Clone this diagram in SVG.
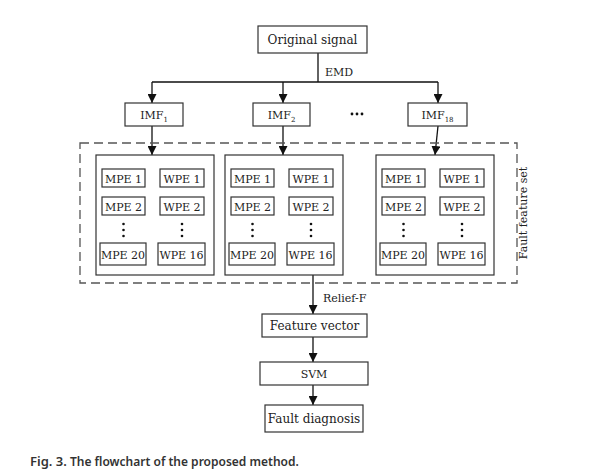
<svg xmlns="http://www.w3.org/2000/svg" width="609" height="474" viewBox="0 0 609 474">
<defs>
<marker id="ah" viewBox="0 0 10 10" refX="10" refY="5" markerWidth="9" markerHeight="9" markerUnits="userSpaceOnUse" orient="auto"><path d="M0,0 L10,5 L0,10 z" fill="#111"/></marker>
<g id="grp">
<rect x="0" y="0" width="118" height="120" class="b"/>
<rect x="6" y="14" width="43" height="18" class="b"/><text x="27.5" y="28" class="t">MPE 1</text>
<rect x="64" y="14" width="44" height="18" class="b"/><text x="86" y="28" class="t">WPE 1</text>
<rect x="6" y="42" width="43" height="18" class="b"/><text x="27.5" y="56" class="t">MPE 2</text>
<rect x="64" y="42" width="44" height="18" class="b"/><text x="86" y="56" class="t">WPE 2</text>
<g fill="#111"><circle cx="27.5" cy="69" r="1.3"/><circle cx="27.5" cy="75" r="1.3"/><circle cx="27.5" cy="81" r="1.3"/><circle cx="86" cy="69" r="1.3"/><circle cx="86" cy="75" r="1.3"/><circle cx="86" cy="81" r="1.3"/></g>
<rect x="4" y="88" width="46" height="22" class="b"/><text x="27" y="104" class="t">MPE 20</text>
<rect x="62" y="88" width="47" height="22" class="b"/><text x="85.5" y="104" class="t">WPE 16</text>
</g>
</defs>
<style>
.b{fill:#fff;stroke:#333;stroke-width:1.2}
.t{font-family:"DejaVu Serif","Liberation Serif",serif;font-size:11px;text-anchor:middle;fill:#222}
.l{font-family:"DejaVu Serif","Liberation Serif",serif;font-size:11px;fill:#222}
.c{stroke:#111;stroke-width:1.3;fill:none}
</style>
<rect width="609" height="474" fill="#fff"/>
<g id="connectors">
<path class="c" d="M318,53 V82 M152,82 H438"/>
<path class="c" d="M152,82 V103" marker-end="url(#ah)"/>
<path class="c" d="M283,82 V103" marker-end="url(#ah)"/>
<path class="c" d="M438,82 V103" marker-end="url(#ah)"/>
<path class="c" d="M152,126 V155" marker-end="url(#ah)"/>
<path class="c" d="M283,126 V155" marker-end="url(#ah)"/>
<path class="c" d="M438,126 L435,155" marker-end="url(#ah)"/>
<path class="c" d="M313,275 V314" marker-end="url(#ah)"/>
<path class="c" d="M313,337 V362" marker-end="url(#ah)"/>
<path class="c" d="M313,385 V405" marker-end="url(#ah)"/>
<text x="325" y="76" class="l">EMD</text>
<text x="323" y="302" class="l">Relief-F</text>
</g>
<g id="fault-feature-set">
<rect x="80" y="143" width="437" height="140" fill="none" stroke="#555" stroke-width="1.3" stroke-dasharray="9,5"/>
<text transform="translate(527,213) rotate(-90)" class="t">Fault feature set</text>
</g>
<g id="original"><rect x="258" y="26" width="109" height="27" class="b"/><text x="312.5" y="44" class="t" style="font-size:12px">Original signal</text></g>
<g id="imf1"><rect x="125" y="103" width="58" height="23" class="b"/><text x="154" y="119" class="t">IMF<tspan font-size="7" dy="3">1</tspan></text></g>
<g id="imf2"><rect x="253" y="103" width="57" height="23" class="b"/><text x="281.5" y="119" class="t">IMF<tspan font-size="7" dy="3">2</tspan></text></g>
<g id="imf18"><rect x="408" y="103" width="59" height="23" class="b"/><text x="437.5" y="119" class="t">IMF<tspan font-size="7" dy="3">18</tspan></text></g>
<g id="dots" fill="#111"><circle cx="352" cy="114" r="1.4"/><circle cx="357" cy="114" r="1.4"/><circle cx="362" cy="114" r="1.4"/></g>
<g id="group1"><use href="#grp" x="96" y="155"/></g>
<g id="group2"><use href="#grp" x="225" y="155"/></g>
<g id="group3"><use href="#grp" x="376" y="155"/></g>
<g id="feature-vector"><rect x="262" y="314" width="105" height="23" class="b"/><text x="314.5" y="330" class="t" style="font-size:12px">Feature vector</text></g>
<g id="svm"><rect x="260" y="362" width="108" height="23" class="b"/><text x="314" y="378" class="t">SVM</text></g>
<g id="fault-diagnosis"><rect x="265" y="405" width="98" height="27" class="b"/><text x="314" y="423" class="t" style="font-size:12px">Fault diagnosis</text></g>
<text x="30" y="466" font-family="'Noto Sans','Open Sans',sans-serif" font-size="12" font-weight="600" fill="#333"><tspan font-size="13">Fig. 3.</tspan> The flowchart of the proposed method.</text>
</svg>
